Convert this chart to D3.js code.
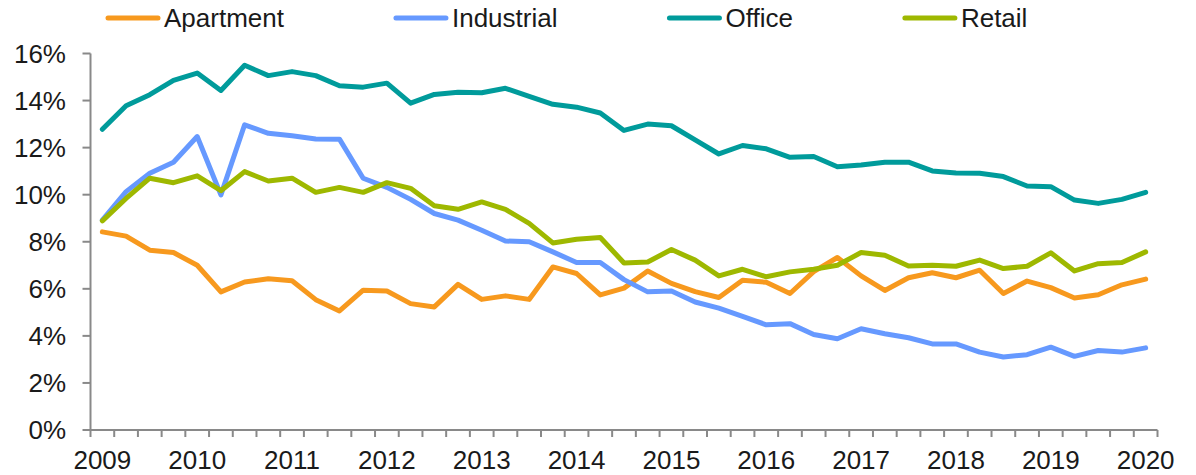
<!DOCTYPE html>
<html>
<head>
<meta charset="utf-8">
<script src="https://cdn.jsdelivr.net/npm/d3@7"></script>
<style>
  body { margin: 0; background: #fff; }
  text { font-family: "Liberation Sans", Arial, sans-serif; fill: #1a1a1a; }
</style>
</head>
<body>
<div id="chart"></div>
<script>
// Year tick labels shown under the axis (every 4th quarter)
var years = ["2009","2010","2011","2012","2013","2014","2015","2016","2017","2018","2019","2020"];

// Quarterly categories, 2009 Q1 to 2020 Q1
var quarters = [];
years.forEach(function(y, i) {
  var n = (i == years.length - 1) ? 1 : 4;
  for (var q = 1; q <= n; q++) quarters.push(y + " Q" + q);
});

// Series names and colours
var seriesNames = ["Apartment", "Industrial", "Office", "Retail"];
var seriesColors = ["#f7991e", "#6699ff", "#009b9b", "#9eb800"];

// Vacancy rates (%)
var apartment = [8.42, 8.24, 7.64, 7.54, 7.0, 5.87, 6.29, 6.43, 6.34, 5.54,
  5.06, 5.94, 5.91, 5.37, 5.23, 6.19, 5.55, 5.70, 5.55, 6.93,
  6.65, 5.74, 6.03, 6.76, 6.23, 5.88, 5.63, 6.36, 6.28, 5.80,
  6.73, 7.33, 6.55, 5.93, 6.47, 6.68, 6.47, 6.79, 5.80, 6.33,
  6.05, 5.61, 5.75, 6.17, 6.41];
var industrial = [8.92, 10.13, 10.91, 11.38, 12.47, 9.99, 12.97, 12.61, 12.5, 12.37,
  12.36, 10.70, 10.31, 9.80, 9.20, 8.92, 8.49, 8.03, 8.0, 7.57,
  7.12, 7.12, 6.39, 5.87, 5.91, 5.44, 5.18, 4.83, 4.47, 4.52,
  4.06, 3.88, 4.30, 4.09, 3.92, 3.66, 3.66, 3.31, 3.10, 3.20,
  3.52, 3.13, 3.38, 3.31, 3.49];
var office = [12.78, 13.78, 14.25, 14.86, 15.17, 14.43, 15.50, 15.06, 15.23, 15.06,
  14.63, 14.57, 14.74, 13.89, 14.26, 14.35, 14.33, 14.52, 14.18, 13.84,
  13.72, 13.47, 12.73, 13.0, 12.93, 12.33, 11.73, 12.09, 11.95, 11.59,
  11.62, 11.19, 11.26, 11.38, 11.38, 11.01, 10.92, 10.91, 10.77, 10.37,
  10.34, 9.77, 9.63, 9.80, 10.10];
var retail = [8.89, 9.84, 10.70, 10.51, 10.80, 10.17, 10.98, 10.58, 10.70, 10.10,
  10.31, 10.10, 10.51, 10.27, 9.53, 9.38, 9.69, 9.38, 8.78, 7.95,
  8.11, 8.18, 7.10, 7.14, 7.67, 7.22, 6.55, 6.83, 6.51, 6.72,
  6.83, 7.0, 7.54, 7.43, 6.97, 7.0, 6.96, 7.22, 6.86, 6.96,
  7.53, 6.76, 7.07, 7.12, 7.57];

// Y axis ticks
var yTicks = [0, 2, 4, 6, 8, 10, 12, 14, 16];

var w = 1196;
var h = 475;
var axisColor = "#898989";

var svg = d3.select("#chart")
  .append("svg")
  .attr("width", w)
  .attr("height", h);

// Scales: one band per quarter, points drawn at band centres
var x = d3.scaleBand()
  .domain(quarters)
  .range([90.5, 1157.5]);

var y = d3.scaleLinear()
  .domain([0, 16])
  .range([430, 53.5]);

// Y axis line and ticks
var yAxis = svg.append("g");
yAxis.append("line")
  .attr("x1", x.range()[0]).attr("x2", x.range()[0])
  .attr("y1", y(0)).attr("y2", y(16))
  .attr("stroke", axisColor).attr("stroke-width", 2);
yAxis.selectAll(".ytick")
  .data(yTicks)
  .enter()
  .append("line")
  .attr("x1", x.range()[0] - 8).attr("x2", x.range()[0])
  .attr("y1", function(d) { return y(d); })
  .attr("y2", function(d) { return y(d); })
  .attr("stroke", axisColor).attr("stroke-width", 2);
yAxis.selectAll("text")
  .data(yTicks)
  .enter()
  .append("text")
  .attr("x", 66)
  .attr("y", function(d) { return y(d); })
  .attr("dy", "0.36em")
  .attr("text-anchor", "end")
  .style("font-size", "26px")
  .text(function(d) { return d + "%"; });

// X axis line, ticks between quarters, year labels
var bounds = quarters.map(function(q) { return x(q); }).concat([x.range()[1]]);
var xAxis = svg.append("g");
xAxis.append("line")
  .attr("x1", x.range()[0] - 1).attr("x2", x.range()[1])
  .attr("y1", y(0)).attr("y2", y(0))
  .attr("stroke", axisColor).attr("stroke-width", 2);
xAxis.selectAll(".xtick")
  .data(bounds)
  .enter()
  .append("line")
  .attr("x1", function(d) { return d; })
  .attr("x2", function(d) { return d; })
  .attr("y1", y(0)).attr("y2", y(0) + 7)
  .attr("stroke", axisColor).attr("stroke-width", 2);
xAxis.selectAll("text")
  .data(years)
  .enter()
  .append("text")
  .attr("x", function(d) { return x(d + " Q1") + x.bandwidth() / 2; })
  .attr("y", 469)
  .attr("text-anchor", "middle")
  .style("font-size", "26px")
  .text(function(d) { return d; });

// Lines
var allSeries = [apartment, industrial, office, retail];
var line = d3.line()
  .x(function(d, i) { return x(quarters[i]) + x.bandwidth() / 2; })
  .y(function(d) { return y(d); });

svg.selectAll(".series")
  .data(allSeries)
  .enter()
  .append("path")
  .attr("d", line)
  .attr("fill", "none")
  .attr("stroke", function(d, i) { return seriesColors[i]; })
  .attr("stroke-width", 5)
  .attr("stroke-linejoin", "round")
  .attr("stroke-linecap", "round");

// Legend: line sample then name, laid out left to right
var lx = 108;
seriesNames.forEach(function(name, i) {
  var g = svg.append("g");
  g.append("line")
    .attr("x1", lx).attr("x2", lx + 50)
    .attr("y1", 18).attr("y2", 18)
    .attr("stroke", seriesColors[i])
    .attr("stroke-width", 5)
    .attr("stroke-linecap", "round");
  var t = g.append("text")
    .attr("x", lx + 56)
    .attr("y", 18)
    .attr("dy", "0.36em")
    .style("font-size", "26px")
    .text(name);
  lx = lx + 56 + t.node().getComputedTextLength() + 112;
});
</script>
</body>
</html>
